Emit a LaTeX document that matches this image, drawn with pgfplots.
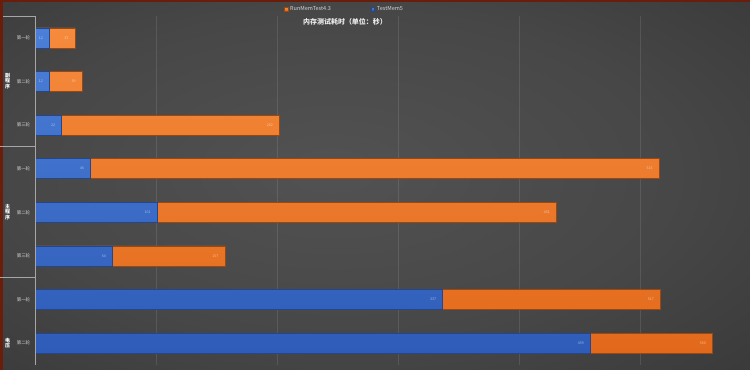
\documentclass[border=0pt]{standalone}
\usepackage{pgfplots}
\pgfplotsset{compat=1.18}
\usepackage{fontspec}
\setmainfont{Noto Sans CJK SC}
\definecolor{bgA}{HTML}{525252}
\definecolor{bgB}{HTML}{474747}
\definecolor{bgC}{HTML}{2E2E2E}
\definecolor{bgD}{HTML}{222222}
\definecolor{rededge}{HTML}{6B1D0B}
\definecolor{bTop}{HTML}{4C7FD8}
\definecolor{bBot}{HTML}{2E5CB8}
\definecolor{bEdge}{HTML}{24468A}
\definecolor{oTop}{HTML}{F68B3D}
\definecolor{oBot}{HTML}{E2691B}
\definecolor{oEdge}{HTML}{9A4812}
\definecolor{lbl}{HTML}{D6D6D6}
\pgfdeclareradialshading{bgshade}{\pgfpoint{-3bp}{2bp}}{color(0bp)=(bgA); color(22bp)=(bgB); color(52bp)=(bgC); color(72bp)=(bgD)}
\begin{document}
\begin{tikzpicture}
\path[use as bounding box] (0,0) rectangle (750bp,370bp);
\shade[shading=bgshade] (0,0) rectangle (750bp,370bp);
\fill[rededge] (0,0) rectangle (3bp,370bp);
\fill[rededge] (0,368bp) rectangle (750bp,370bp);
\begin{axis}[
  scale only axis,
  width=715bp, height=349bp,
  at={(35bp,5bp)}, anchor=south west,
  xmin=0, xmax=591,
  ymin=-0.5, ymax=7.5,
  y dir=reverse,
  xbar, bar width=0.46, bar shift=0pt,
  axis line style={draw=none},
  tick style={draw=none},
  xtick={100,200,300,400,500},
  xticklabels=\empty,
  xmajorgrids,
  grid style={draw=white, draw opacity=0.10, line width=0.6bp},
  ytick={0,1,2,3,4,5,6,7},
  yticklabels={第一轮,第二轮,第三轮,第一轮,第二轮,第三轮,第一轮,第二轮},
  yticklabel style={font=\fontsize{4.5}{5}\selectfont, text=lbl, anchor=east, xshift=3bp},
  /pgf/number format/assume math mode=true,
  nodes near coords,
  every node near coord/.append style={anchor=east, xshift=-3bp, font=\fontsize{3.6}{4}\selectfont, text=white, text opacity=0.55},
  legend columns=2,
  legend style={at={(0.344,1.02)}, anchor=west, draw=none, fill=none,
    font=\fontsize{5.5}{6}\selectfont, text=lbl,
    /tikz/every even column/.append style={column sep=38bp}},
  legend image code/.code={\fill[#1] (0bp,-1.8bp) rectangle (3.6bp,1.8bp);},
]
\addplot[top color=oTop, bottom color=oBot, draw=oEdge, line width=0.5bp] coordinates {
 (33,0) (39,1) (202,2) (516,3) (431,4) (157,5) (517,6) (560,7)};
\addlegendentry{RunMemTest4.3}
\addplot[top color=bTop, bottom color=bBot, draw=bEdge, line width=0.5bp] coordinates {
 (12,0) (12,1) (22,2) (46,3) (101,4) (64,5) (337,6) (459,7)};
\addlegendentry{TestMem5}
\end{axis}
\draw[gray!70, line width=0.6bp] (35bp,5bp) -- (35bp,354bp);
\draw[gray!70, line width=0.6bp] (3bp,354bp) -- (35bp,354bp);
\draw[gray!70, line width=0.6bp] (0bp,223.5bp) -- (35bp,223.5bp);
\draw[gray!70, line width=0.6bp] (0bp,92.5bp) -- (35bp,92.5bp);
\node[font=\fontsize{5}{5.3}\selectfont\bfseries, text=white, align=center, inner sep=0pt] at (7.5bp,289bp) {副\\程\\序};
\node[font=\fontsize{5}{5.3}\selectfont\bfseries, text=white, align=center, inner sep=0pt] at (7.5bp,158bp) {主\\程\\序};
\node[font=\fontsize{5}{5.3}\selectfont\bfseries, text=white, align=center, inner sep=0pt] at (7.5bp,27bp) {电\\压};
\node[font=\fontsize{7}{8}\selectfont\bfseries, text=white!92!black] at (345bp,348bp) {内存测试耗时（单位：秒）};
\end{tikzpicture}
\end{document}
